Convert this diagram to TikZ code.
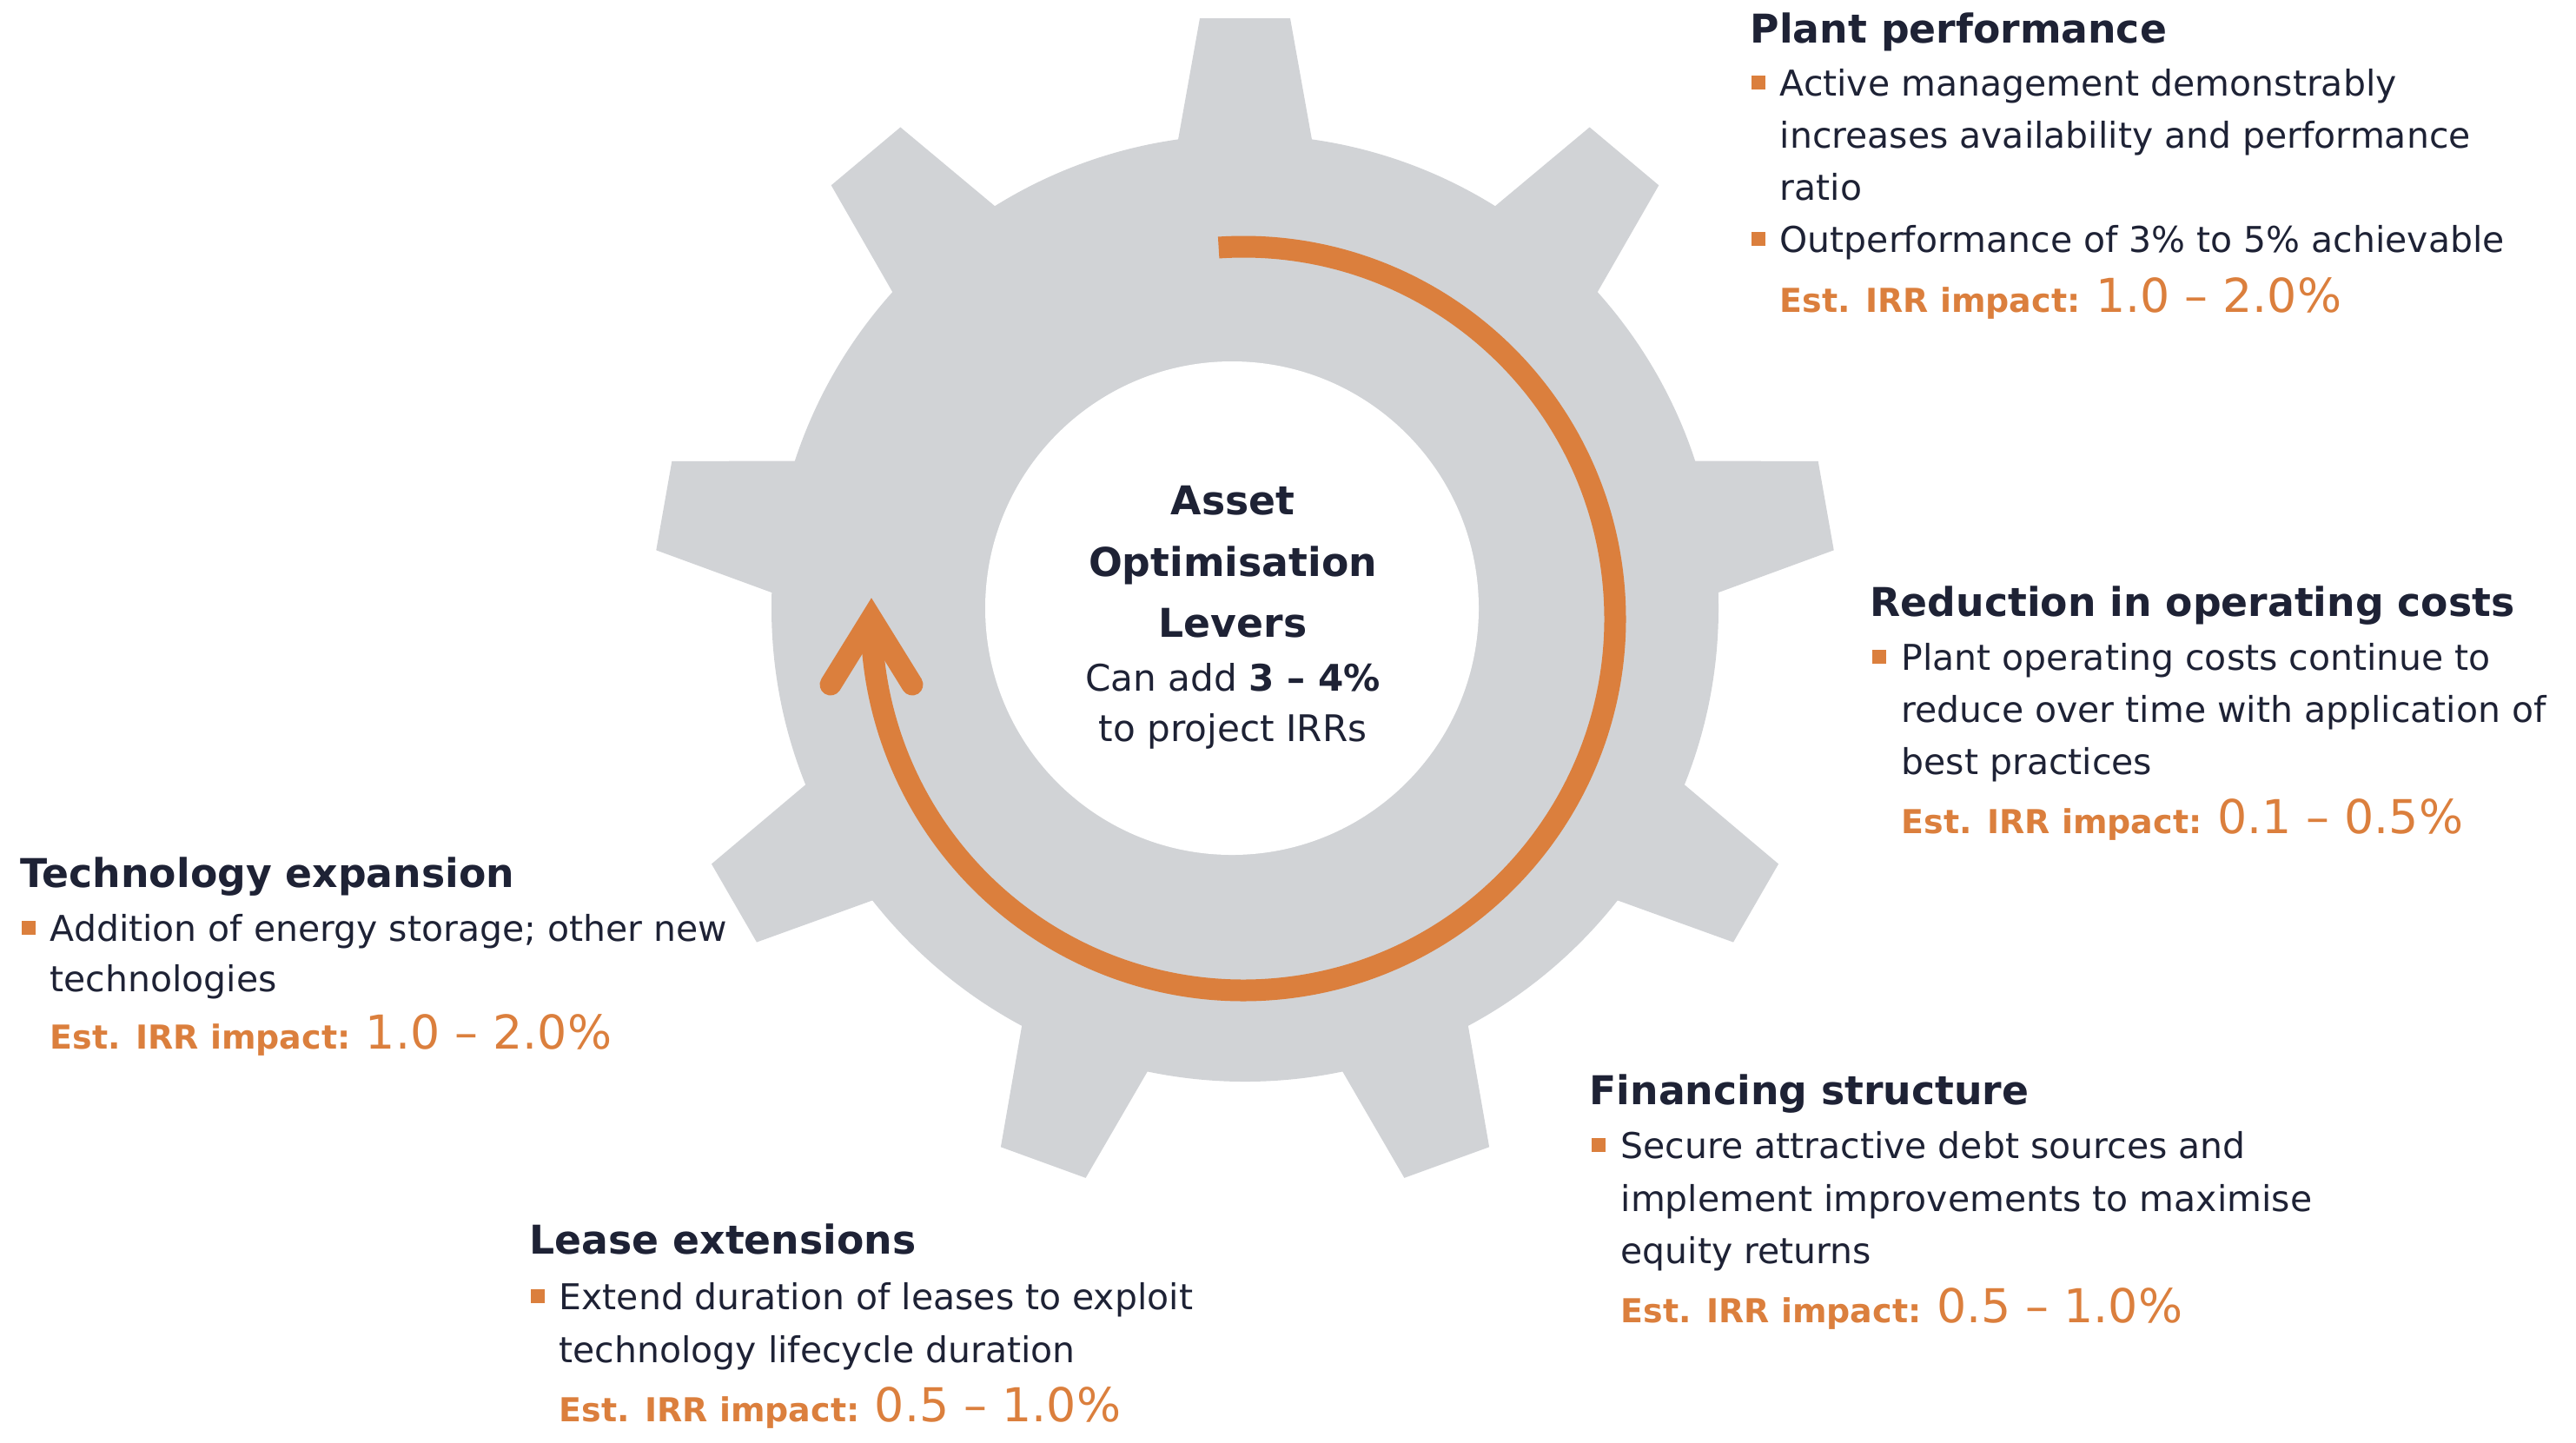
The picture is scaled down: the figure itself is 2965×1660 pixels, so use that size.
\documentclass[tikz,border=0pt]{standalone}
\usepackage{fontspec}
\setmainfont{DejaVu Sans}
\definecolor{gearGrey}{HTML}{D1D3D6}
\definecolor{leverOrange}{HTML}{DB7F3D}
\definecolor{inkNavy}{HTML}{1E2235}
\newcommand{\irrval}[1]{{\fontsize{15.3}{18}\selectfont\mdseries #1}}
\begin{document}
\begin{tikzpicture}[x=0.1mm,y=-0.1mm,
  head/.style={font=\fontsize{13}{16}\selectfont\bfseries,text=inkNavy,anchor=base west,inner sep=0},
  body/.style={font=\fontsize{11.65}{14}\selectfont,text=inkNavy,anchor=base west,inner sep=0},
  impact/.style={font=\fontsize{10.8}{14}\selectfont\bfseries,text=leverOrange,anchor=base west,inner sep=0},
  centre/.style={text=inkNavy,anchor=base,inner sep=0},
  bulletsq/.style={fill=leverOrange,minimum size=1.65mm,inner sep=0},
  leverline/.style={draw=leverOrange,line width=2.5mm}]
\useasboundingbox (0,0) rectangle (2965,1660);
% gear
\coordinate (hub) at (1433,700);
\fill[gearGrey] (hub) circle (545);
\foreach \a in {0,40,...,320}
  \fill[gearGrey,rotate around={\a:(hub)}] (1349,200) -- (1381,21) -- (1485,21) -- (1517,200) -- cycle;
\fill[white] (1418,700) circle (284);
% lever arrow
\coordinate (loop) at (1431,712);
\draw[leverline] (loop) ++(-93.8:428) arc[start angle=-93.8,end angle=180,radius=428];
\draw[leverline,line cap=round,line join=miter] (956,788) -- (1003,712) -- (1050,788);
% centre
\node[centre,font=\fontsize{13}{16}\selectfont\bfseries] (c-asset) at (1419,592) {Asset};
\node[centre,font=\fontsize{13}{16}\selectfont\bfseries] (c-optim) at (1419,663) {Optimisation};
\node[centre,font=\fontsize{13}{16}\selectfont\bfseries] (c-levers) at (1419,733) {Levers};
\node[centre,font=\fontsize{12}{14}\selectfont] (c-add) at (1419,795) {Can add \textbf{3 -- 4\%}};
\node[centre,font=\fontsize{12}{14}\selectfont] (c-irr) at (1419,853) {to project IRRs};
% plant performance
\node[head] (pp-head) at (2014,49) {Plant performance};
\node[bulletsq] (pp-sq1) at (2024,95) {};
\node[body] (pp-l1) at (2048,110) {Active management demonstrably};
\node[body] (pp-l2) at (2048,170) {increases availability and performance};
\node[body] (pp-l3) at (2048,230) {ratio};
\node[bulletsq] (pp-sq2) at (2024,275) {};
\node[body] (pp-l4) at (2048,290) {Outperformance of 3\% to 5\% achievable};
\node[impact] (pp-irr) at (2048,359) {Est. IRR impact: \irrval{1.0 -- 2.0\%}};
% operating costs
\node[head] (oc-head) at (2152,709) {Reduction in operating costs};
\node[bulletsq] (oc-sq1) at (2163,756) {};
\node[body] (oc-l1) at (2188,771) {Plant operating costs continue to};
\node[body] (oc-l2) at (2188,831) {reduce over time with application of};
\node[body] (oc-l3) at (2188,891) {best practices};
\node[impact] (oc-irr) at (2188,959) {Est. IRR impact: \irrval{0.1 -- 0.5\%}};
% technology
\node[head] (te-head) at (23,1021) {Technology expansion};
\node[bulletsq] (te-sq1) at (33,1068) {};
\node[body] (te-l1) at (57,1083) {Addition of energy storage; other new};
\node[body] (te-l2) at (57,1141) {technologies};
\node[impact] (te-irr) at (57,1207) {Est. IRR impact: \irrval{1.0 -- 2.0\%}};
% financing
\node[head] (fs-head) at (1829,1271) {Financing structure};
\node[bulletsq] (fs-sq1) at (1840,1318) {};
\node[body] (fs-l1) at (1865,1333) {Secure attractive debt sources and};
\node[body] (fs-l2) at (1865,1394) {implement improvements to maximise};
\node[body] (fs-l3) at (1865,1454) {equity returns};
\node[impact] (fs-irr) at (1865,1522) {Est. IRR impact: \irrval{0.5 -- 1.0\%}};
% leases
\node[head] (le-head) at (609,1443) {Lease extensions};
\node[bulletsq] (le-sq1) at (619,1492) {};
\node[body] (le-l1) at (643,1507) {Extend duration of leases to exploit};
\node[body] (le-l2) at (643,1568) {technology lifecycle duration};
\node[impact] (le-irr) at (643,1636) {Est. IRR impact: \irrval{0.5 -- 1.0\%}};
\end{tikzpicture}
\end{document}
